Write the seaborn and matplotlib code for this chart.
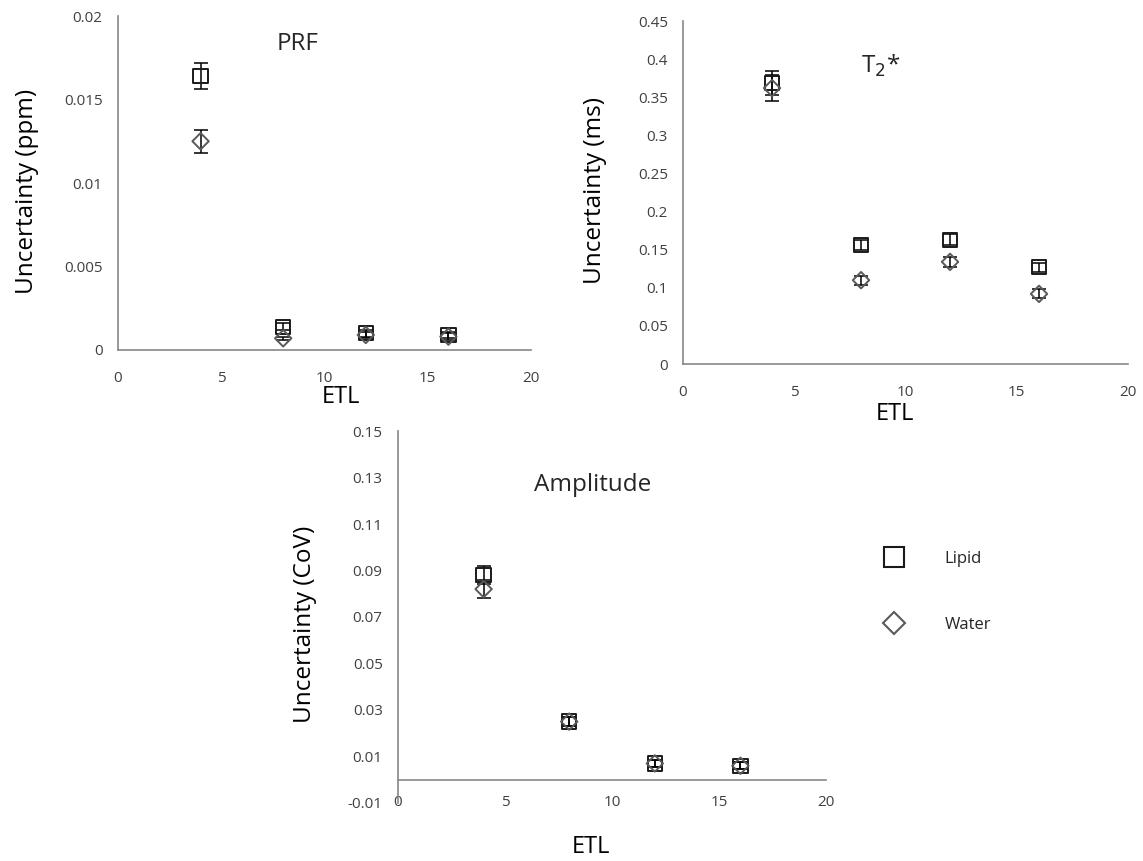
import numpy as np
import pandas as pd
import matplotlib
matplotlib.use("Agg")
import matplotlib.pyplot as plt
import seaborn as sns
from matplotlib.ticker import FuncFormatter, MultipleLocator

sns.set_style("white")
plt.rcParams["font.family"] = ["Open Sans", "DejaVu Sans"]

# Echo train lengths
etl = [4, 8, 12, 16]
series = ["Lipid", "Water"]

# PRF uncertainty (ppm)
prf_lipid = [0.0164, 0.0014, 0.0010, 0.0009]
prf_lipid_err = [0.0008, 0.0002, 0.0002, 0.0002]
prf_water = [0.0125, 0.0007, 0.0009, 0.0008]
prf_water_err = [0.0007, 0.0001, 0.0002, 0.0002]

# T2* uncertainty (ms)
t2_lipid = [0.369, 0.156, 0.163, 0.127]
t2_lipid_err = [0.016, 0.007, 0.007, 0.006]
t2_water = [0.362, 0.110, 0.134, 0.092]
t2_water_err = [0.017, 0.006, 0.007, 0.006]

# Amplitude uncertainty (CoV)
amp_lipid = [0.088, 0.025, 0.007, 0.006]
amp_lipid_err = [0.004, 0.002, 0.0015, 0.0015]
amp_water = [0.082, 0.025, 0.007, 0.006]
amp_water_err = [0.004, 0.002, 0.0015, 0.0015]

markers = {"Lipid": "s", "Water": "D"}
edge = {"Lipid": "#1a1a1a", "Water": "#5a5a5a"}
msize = {"Lipid": 105, "Water": 70}
axis_grey = "#878787"
tick_col = "#404040"


def frame(lip, lip_e, wat, wat_e):
    return pd.DataFrame({
        "ETL": etl * 2,
        "value": lip + wat,
        "err": lip_e + wat_e,
        "series": ["Lipid"] * len(etl) + ["Water"] * len(etl),
    })


def gfmt(v, pos):
    s = f"{v:.3f}".rstrip("0").rstrip(".")
    return "0" if s in ("-0", "0") else s


def draw(ax, df, ylim, ystep, ylabel, title, title_xy, xlab_xy, ylab_xy,
         yticks_start=None):
    for name in series:
        sub = df[df["series"] == name]
        ax.errorbar(sub["ETL"], sub["value"], yerr=sub["err"], fmt="none",
                    ecolor="black", elinewidth=1.1, capsize=5, capthick=1.1,
                    zorder=2)
    for name in series:
        sub = df[df["series"] == name]
        sns.scatterplot(data=sub, x="ETL", y="value", marker=markers[name],
                        s=msize[name], facecolor="none", edgecolor=edge[name],
                        linewidth=1.4, ax=ax, zorder=3, legend=False)
    ax.set_xlim(0, 20)
    ax.set_ylim(*ylim)
    ax.xaxis.set_major_locator(MultipleLocator(5))
    if yticks_start is None:
        ax.yaxis.set_major_locator(MultipleLocator(ystep))
    else:
        ax.set_yticks(np.arange(yticks_start, ylim[1] + ystep / 2, ystep))
    ax.yaxis.set_major_formatter(FuncFormatter(gfmt))
    for s in ("top", "right"):
        ax.spines[s].set_visible(False)
    for s in ("left", "bottom"):
        ax.spines[s].set_color(axis_grey)
        ax.spines[s].set_linewidth(1.2)
    ax.tick_params(axis="both", direction="out", length=5, width=1.1,
                   color=axis_grey, labelsize=11, labelcolor=tick_col)
    ax.tick_params(axis="x", pad=10)
    ax.tick_params(axis="y", pad=6)
    ax.set_xlabel("ETL", fontsize=17, color="black")
    ax.set_ylabel(ylabel, fontsize=17.5, color="black")
    ax.xaxis.set_label_coords(*xlab_xy)
    ax.yaxis.set_label_coords(*ylab_xy)
    ax.text(title_xy[0], title_xy[1], title, transform=ax.transAxes,
            fontsize=17.5, ha="center", va="center")


fig = plt.figure(figsize=(11.43, 8.61), dpi=100)

ax1 = fig.add_axes([0.1032, 0.5935, 0.3614, 0.3879])
draw(ax1, frame(prf_lipid, prf_lipid_err, prf_water, prf_water_err),
     (0, 0.02), 0.005, "Uncertainty (ppm)", "PRF", (0.435, 0.915),
     (0.54, -0.105), (-0.19, 0.475))

ax2 = fig.add_axes([0.5976, 0.5772, 0.3893, 0.3984])
draw(ax2, frame(t2_lipid, t2_lipid_err, t2_water, t2_water_err),
     (0, 0.45), 0.05, "Uncertainty (ms)", r"T$_2$*", (0.445, 0.87),
     (0.476, -0.11), (-0.172, 0.505))

ax3 = fig.add_axes([0.3482, 0.0674, 0.3745, 0.4320])
draw(ax3, frame(amp_lipid, amp_lipid_err, amp_water, amp_water_err),
     (-0.01, 0.15), 0.02, "Uncertainty (CoV)", "Amplitude", (0.455, 0.855),
     (0.451, -0.085), (-0.19, 0.48), yticks_start=-0.01)
ax3.spines["bottom"].set_position(("data", 0))
ax3.tick_params(axis="x", pad=6)

handles = [
    plt.Line2D([], [], linestyle="none", marker=markers[n],
               markersize=14 if n == "Lipid" else 11,
               markerfacecolor="none", markeredgecolor=edge[n],
               markeredgewidth=1.5)
    for n in series
]
fig.legend(handles, series, loc="center left", bbox_to_anchor=(0.762, 0.313),
           frameon=False, fontsize=12, labelspacing=3.0, handletextpad=2.0,
           borderaxespad=0)

fig.savefig("out.png", dpi=100)
